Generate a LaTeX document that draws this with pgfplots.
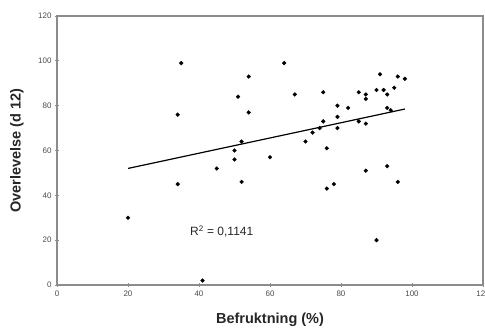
\documentclass[border=0pt]{standalone}
\usepackage{fontspec}
\setmainfont{Liberation Sans}
\usepackage{pgfplots}
\pgfplotsset{compat=1.18}
\definecolor{framegray}{rgb}{0.55,0.55,0.55}
\begin{document}
\begin{tikzpicture}
\begin{axis}[name=ax, scale only axis, width=426pt, height=269pt,
  xmin=0, xmax=120, ymin=0, ymax=120,
  xtick={0,20,...,120}, ytick={0,20,...,120},
  tick pos=left,
  axis line style={draw=framegray, line width=1.2pt},
  tick style={draw=framegray, line width=0.8pt},
  tick align=center, major tick length=4pt,
  /pgf/number format/assume math mode=true,
  ticklabel style={font=\fontsize{8}{9}\selectfont, text=black!70},
  xlabel={Befruktning (\%)}, ylabel={Overlevelse (d 12)},
  label style={font=\fontsize{14.5}{17}\selectfont\bfseries, text=black!85},
  xlabel style={at={(axis description cs:0.5,0)}, anchor=center, yshift=-35pt},
  ylabel style={at={(axis description cs:0,0.5)}, anchor=center, yshift=40pt},
  clip=false]
\addplot[only marks, mark=*, mark size=1.9pt, black] coordinates {
(20,30) (34,76) (34,45) (35,99) (41,2) (45,52) (50,60) (50,56) (51,84)
(52,64) (52,46) (54,93) (54,77) (60,57) (64,99) (67,85) (70,64) (72,68)
(74,70) (75,86) (75,73) (76,61) (76,43) (78,45) (79,80) (79,75) (79,70)
(82,79) (85,86) (85,73) (87,85) (87,83) (87,72) (87,51) (90,87) (90,20)
(91,94) (92,87) (93,85) (93,79) (94,78) (93,53) (95,88) (96,93) (96,46) (98,92)
};
\addplot[black, line width=1.2pt] coordinates {(20,52) (98,78.5)};
\node[font=\fontsize{12}{14}\selectfont, text=black!85] at (axis cs:46.4,23.8) {R\textsuperscript{2} = 0,1141};
\end{axis}
\pgfresetboundingbox
\path ([shift={(-57pt,-45pt)}]ax.south west) rectangle ([shift={(2pt,16pt)}]ax.north east);
\end{tikzpicture}
\end{document}
